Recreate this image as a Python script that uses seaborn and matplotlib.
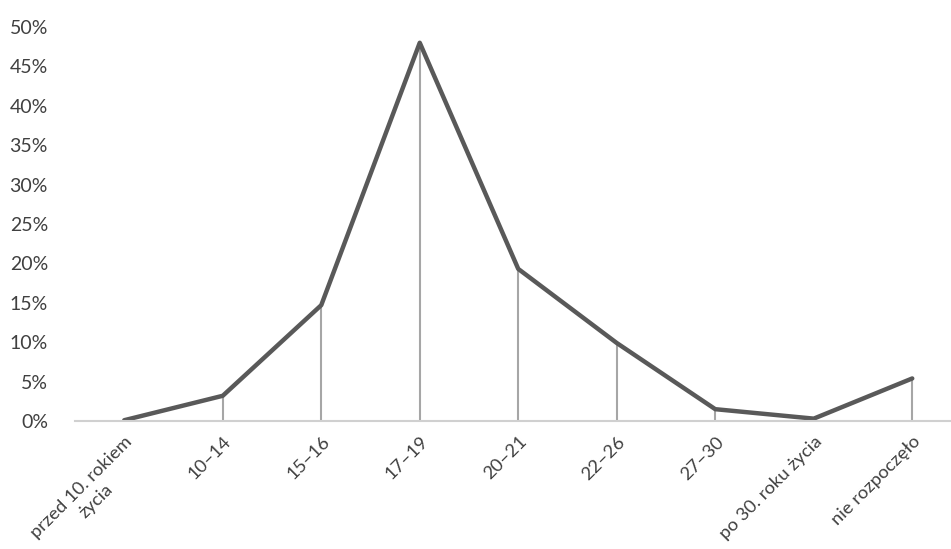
import matplotlib
matplotlib.use("Agg")
import matplotlib.pyplot as plt
import seaborn as sns
import pandas as pd
from matplotlib.ticker import MultipleLocator, FuncFormatter

# Age at which sexual initiation happened (share of respondents)
categories = ["przed 10. rokiem\nżycia", "10–14", "15–16", "17–19", "20–21",
              "22–26", "27–30", "po 30. roku życia", "nie rozpoczęło"]
shares = [0.1, 3.2, 14.7, 48.0, 19.3, 9.9, 1.5, 0.3, 5.4]

df = pd.DataFrame({"kategoria": categories, "udzial": shares})

sns.set_theme(style="white")
plt.rcParams["font.family"] = ["Lato", "DejaVu Sans"]

fig = plt.figure(figsize=(9.51, 5.49), dpi=100)
ax = fig.add_axes([75 / 951, 1 - 421 / 549, 886.5 / 951, 394 / 549])

# thin drop lines from each point down to the axis
ax.vlines(df["kategoria"], 0, df["udzial"], color="#a6a6a6", linewidth=1.5, zorder=1)
sns.lineplot(data=df, x="kategoria", y="udzial", sort=False, color="#595959",
             linewidth=3.2, ax=ax, zorder=2, solid_joinstyle="round",
             solid_capstyle="round")

ax.set_xlim(-0.5, 8.5)
ax.set_ylim(0, 50)
ax.yaxis.set_major_locator(MultipleLocator(5))
ax.yaxis.set_major_formatter(FuncFormatter(lambda v, _: f"{v:.0f}%"))
ax.set_xlabel("")
ax.set_ylabel("")

for side in ["top", "right", "left"]:
    ax.spines[side].set_visible(False)
ax.spines["bottom"].set_color("#d0d0d0")
ax.spines["bottom"].set_linewidth(1.5)

ax.tick_params(axis="y", length=0, pad=19.5, labelsize=14, labelcolor="#404040")
ax.tick_params(axis="x", length=0, pad=9, labelsize=13.2, labelcolor="#404040")
for lbl in ax.get_xticklabels():
    lbl.set_rotation(45)
    lbl.set_ha("right")
    lbl.set_va("top")
    lbl.set_rotation_mode("anchor")
    lbl.set_multialignment("center")
    lbl.set_linespacing(1.3)

fig.savefig("out.png", dpi=100)
